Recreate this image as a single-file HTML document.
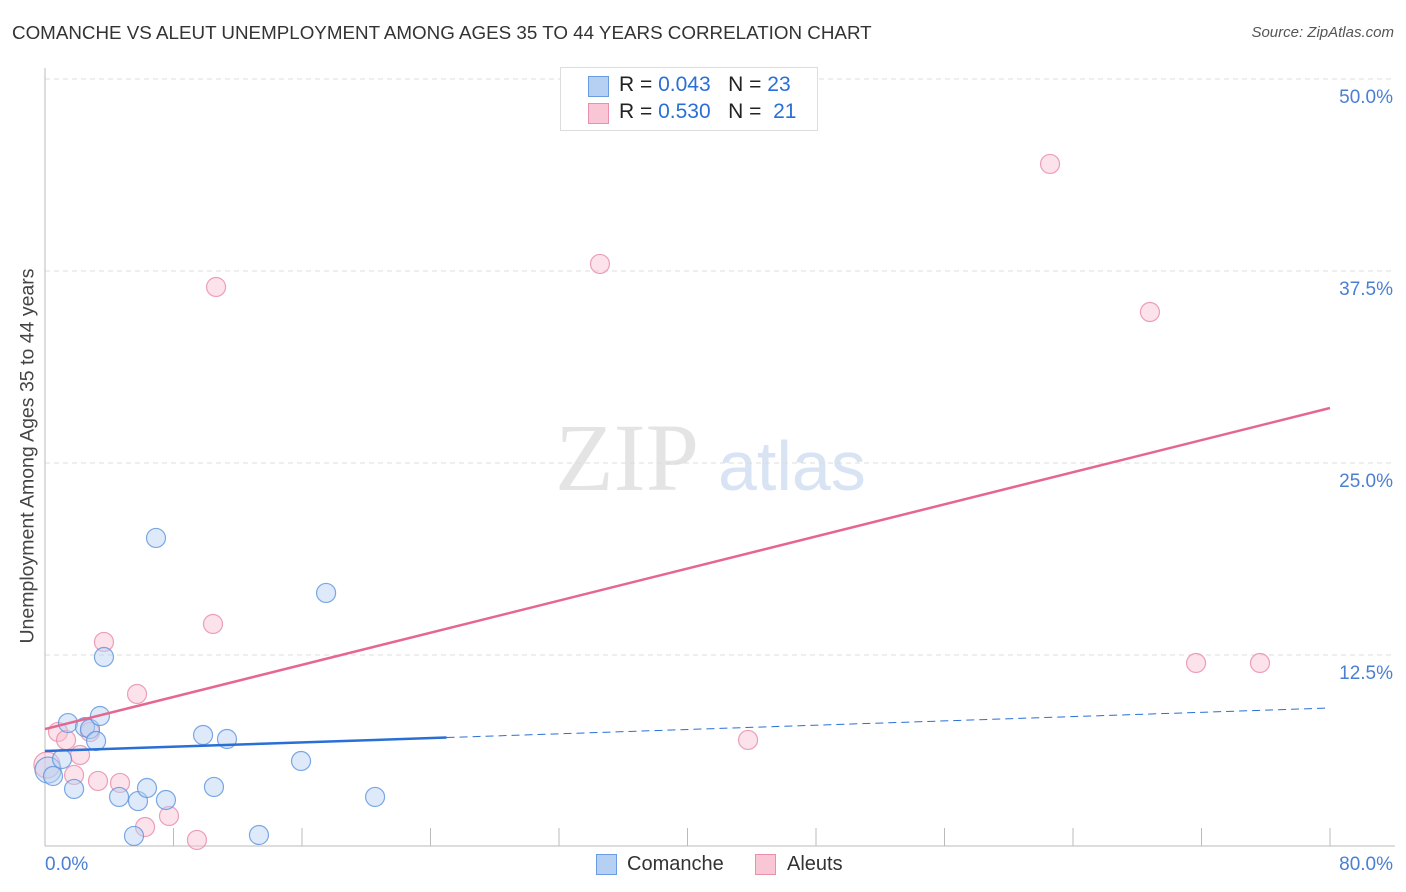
<!DOCTYPE html>
<html><head><meta charset="utf-8"><style>
body{margin:0;background:#fff;font-family:"Liberation Sans",sans-serif;}
#wrap{position:relative;width:1406px;height:892px;overflow:hidden}
.t{position:absolute;white-space:nowrap}
</style></head><body>
<div id="wrap">
<div class="t" style="left:12px;top:22px;font-size:18.8px;color:#333">COMANCHE VS ALEUT UNEMPLOYMENT AMONG AGES 35 TO 44 YEARS CORRELATION CHART</div>
<div class="t" style="right:12px;top:24px;font-size:15px;color:#555;font-style:italic">Source: ZipAtlas.com</div>
<div class="t" style="left:28px;top:456px;font-size:19.5px;color:#444;transform:translate(-50%,-50%) rotate(-90deg)">Unemployment Among Ages 35 to 44 years</div>
<svg id="plot" width="1406" height="892" style="position:absolute;left:0;top:0"></svg>
</div>
<script>
const yTicks=[12.5,25,37.5,50];
const yTickLabels=["12.5%","25.0%","37.5%","50.0%"];
const xTickLabels=["0.0%","80.0%"];
const comancheX=[0.19,0.50,1.06,1.43,1.81,2.49,2.80,3.18,3.42,3.67,4.61,5.54,5.79,6.35,6.91,7.53,9.84,10.52,11.33,13.32,15.94,17.50,20.55];
const comancheY=[5.01,4.62,5.73,8.07,3.78,7.81,7.68,6.90,8.53,12.37,3.26,0.72,2.99,3.84,20.12,3.06,7.29,3.91,7.03,0.78,5.60,16.54,3.26];
const aleutX=[0.12,0.81,1.31,1.81,2.18,2.80,3.30,3.67,4.67,5.73,6.23,7.72,9.46,10.46,10.65,34.55,43.77,62.57,68.79,71.66,75.64];
const aleutY=[5.34,7.49,6.97,4.69,5.99,7.49,4.30,13.35,4.17,9.96,1.30,2.02,0.46,14.52,36.46,37.96,6.97,44.47,34.83,11.98,11.98];
const comancheTrend=[6.25,9.05];
const aleutTrend=[7.68,28.58];
const NS="http://www.w3.org/2000/svg";
const svg=document.getElementById('plot');
const X=v=>45+v/80*1285, Y=v=>847-v/12.5*192;
function mk(tag,a){const e=document.createElementNS(NS,tag);for(const k in a)e.setAttribute(k,a[k]);svg.appendChild(e);return e;}
let w=mk('text',{x:555,y:490,'font-size':96,'font-family':'Liberation Serif',fill:'#e4e4e4'});w.textContent='ZIP';


let w2=mk('text',{x:718,y:490,'font-size':70,'font-family':'Liberation Sans',fill:'#d8e4f4'});w2.textContent='atlas';


yTicks.forEach((v,i)=>{
 let g=mk('line',{x1:45,x2:1395,y1:Y(v),y2:Y(v),stroke:'#ddd','stroke-dasharray':'5,4'});
 
 
 let t=mk('text',{x:1393,y:Y(v)+24,'text-anchor':'end','font-size':19,fill:'#4a7fd4'});t.textContent=yTickLabels[i];
 
 
});
let ax=mk('line',{x1:45,x2:45,y1:68,y2:846,stroke:'#bbb'});


let bx=mk('line',{x1:45,x2:1395,y1:846,y2:846,stroke:'#bbb'});


for(let k=1;k<=10;k++){let tk=mk('line',{x1:45+k*128.5,x2:45+k*128.5,y1:828,y2:846,stroke:'#bbb'});
 
 }
let xl0=mk('text',{x:45,y:870,'font-size':19,fill:'#4a7fd4'});xl0.textContent=xTickLabels[0];


let xl1=mk('text',{x:1393,y:870,'text-anchor':'end','font-size':19,fill:'#4a7fd4'});xl1.textContent=xTickLabels[1];


function pts(xs,ys,fill,stroke,name){xs.forEach((x,i)=>{let c=mk('circle',{cx:X(x),cy:Y(ys[i]),r:i==0?13:9.5,fill:fill,'fill-opacity':0.45,stroke:stroke,'stroke-width':1.2,'stroke-opacity':0.8});
 
 });}
pts(aleutX,aleutY,'#f9bfd0','#e88aa8','aleut-point');
pts(comancheX,comancheY,'#b5d0f3','#5b93dc','comanche-point');
const yb=x=>comancheTrend[0]+(comancheTrend[1]-comancheTrend[0])*x/80;
let l1=mk('line',{x1:X(0),y1:Y(yb(0)),x2:X(25),y2:Y(yb(25)),stroke:'#2a6fd6','stroke-width':2.5});


let l2=mk('line',{x1:X(25),y1:Y(yb(25)),x2:X(80),y2:Y(yb(80)),stroke:'#2a6fd6','stroke-width':1,'stroke-dasharray':'8,5'});


let l3=mk('line',{x1:X(0),y1:Y(aleutTrend[0]),x2:X(80),y2:Y(aleutTrend[1]),stroke:'#e56790','stroke-width':2.5});


</script>
<div style="position:absolute;left:560px;top:67px;width:256px;height:62px;border:1px solid #ddd;background:#fff;font-size:21px;color:#222">
 <div style="position:absolute;left:27px;top:8px;width:19px;height:19px;background:#b5d0f3;border:1px solid #6b9be0"></div>
 <div class="t" style="left:58px;top:5px">R = <span style="color:#2a6fd6">0.043</span>&nbsp;&nbsp;&nbsp;N = <span style="color:#2a6fd6">23</span></div>
 <div style="position:absolute;left:27px;top:35px;width:19px;height:19px;background:#f9c6d5;border:1px solid #e890ac"></div>
 <div class="t" style="left:58px;top:32px">R = <span style="color:#2a6fd6">0.530</span>&nbsp;&nbsp;&nbsp;N = &nbsp;<span style="color:#2a6fd6">21</span></div>
</div>
<div style="position:absolute;left:596px;top:853px;font-size:20px;color:#333">
 <div style="position:absolute;left:0;top:0;width:200px"><span style="position:absolute;left:0;top:1px;width:19px;height:19px;background:#b5d0f3;border:1px solid #6b9be0"></span><span style="position:absolute;left:31px;top:0">Comanche</span></div>
 <div style="position:absolute;left:159px;top:0;width:120px"><span style="position:absolute;left:0;top:1px;width:19px;height:19px;background:#f9c6d5;border:1px solid #e890ac"></span><span style="position:absolute;left:32px;top:0">Aleuts</span></div>
</div>
</body></html>
